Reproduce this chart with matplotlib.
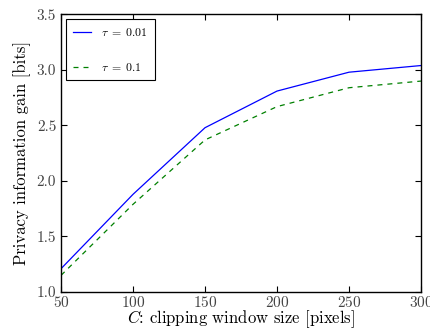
import matplotlib
matplotlib.use("Agg")
import matplotlib.pyplot as plt

C = [50, 100, 150, 200, 250, 300]
gain_tau001 = [1.21, 1.88, 2.48, 2.81, 2.98, 3.04]
gain_tau01 = [1.15, 1.79, 2.37, 2.67, 2.84, 2.90]
labels = [r"$\tau\;=\;0.01$", r"$\tau\;=\;0.1$"]

plt.rcParams['font.family'] = ['cmr10', 'DejaVu Serif']
plt.rcParams['mathtext.fontset'] = 'cm'
plt.rcParams['axes.formatter.use_mathtext'] = True

fig = plt.figure(figsize=(4.3, 3.29), dpi=100)
ax = fig.add_axes([0.142, 0.1125, 0.837, 0.8435])

ax.plot(C, gain_tau001, color='blue', lw=0.9, label=labels[0])
ax.plot(C, gain_tau01, color='green', lw=0.9, ls=(0, (4, 4)), label=labels[1])

ax.set_xlim(50, 300)
ax.set_ylim(1.0, 3.5)
ax.set_xticks([50, 100, 150, 200, 250, 300])
ax.set_yticks([1.0, 1.5, 2.0, 2.5, 3.0, 3.5])
ax.set_yticklabels(["1.0", "1.5", "2.0", "2.5", "3.0", "3.5"])
ax.tick_params(direction='in', top=True, right=True, length=4, labelsize=11, labelcolor='#444444')
ax.tick_params(axis='x', pad=2)
for s in ax.spines.values():
    s.set_linewidth(1.0)

ax.set_xlabel(r"$C$: clipping window size [pixels]", fontsize=12, labelpad=-1)
ax.set_ylabel("Privacy information gain [bits]", fontsize=12, labelpad=4)

leg = ax.legend(loc='upper left', fontsize=8.5, frameon=True, fancybox=False,
                edgecolor='black', framealpha=1, handlelength=1.5,
                labelspacing=1.9, borderpad=0.6, handletextpad=0.9,
                borderaxespad=0.4)
leg.get_frame().set_linewidth(0.8)

fig.savefig("out.png", dpi=100)
